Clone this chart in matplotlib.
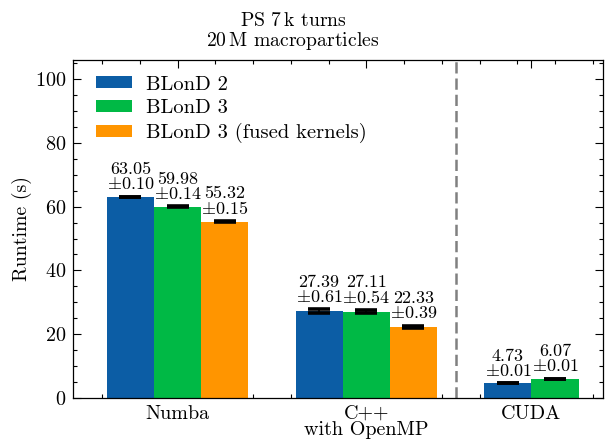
import numpy as np
import matplotlib
matplotlib.use("Agg")
import matplotlib.pyplot as plt
from matplotlib.ticker import MultipleLocator

plt.rcParams['font.family'] = ['cmr10', 'DejaVu Serif']
plt.rcParams['mathtext.fontset'] = 'cm'
plt.rcParams['axes.formatter.use_mathtext'] = True

groups = ["Numba", "C++\nwith OpenMP", "CUDA"]
series = ["BLonD 2", "BLonD 3", "BLonD 3 (fused kernels)"]
values = [
    [63.05, 27.39, 4.73],
    [59.98, 27.11, 6.07],
    [55.32, 22.33, None],
]
errors = [
    [0.10, 0.61, 0.01],
    [0.14, 0.54, 0.01],
    [0.15, 0.39, None],
]
colors = ["#0C5DA5", "#00B945", "#FF9500"]
title = "PS $7\\,$k turns\n$20\\,$M macroparticles"

fig = plt.figure(figsize=(6.10, 4.43), dpi=100)
ax = fig.add_axes([0.1197, 0.1016, 0.9885 - 0.1197, 0.8646 - 0.1016])

x = np.arange(len(groups))
w = 0.25
for i, (name, vals, errs, c) in enumerate(zip(series, values, errors, colors)):
    idx = [j for j, v in enumerate(vals) if v is not None]
    xs = x[idx] + (i - 1) * w
    vs = [vals[j] for j in idx]
    es = [errs[j] for j in idx]
    ax.bar(xs, vs, width=w, color=c, label=name, zorder=2)
    ax.errorbar(xs, vs, yerr=es, fmt='none', ecolor='black', elinewidth=1.2,
                capsize=8, capthick=2.6, zorder=3)
    for xx, v, e in zip(xs, vs, es):
        ax.annotate(f"{v:.2f}\n$\\pm${e:.2f}", (xx, v + e), xytext=(0, 3),
                    textcoords='offset points', ha='center', va='bottom',
                    fontsize=13, linespacing=0.92)

ax.axvline(1.475, color='#808080', linestyle=(0, (4.5, 2.0)), linewidth=1.8, zorder=1)

# group centres: 3-bar groups centred on x, 2-bar group centred between its bars
nbars = [sum(v[j] is not None for v in values) for j in range(len(groups))]
centres = [xx + (n - 3) * w / 2 for xx, n in zip(x, nbars)]
ax.set_xticks(centres)
ax.set_xticklabels(groups, fontsize=14.5, linespacing=0.85)
ax.xaxis.set_minor_locator(MultipleLocator(0.2))
ax.set_xlim(-0.5535, 2.2537)
ax.set_ylim(0, 106)
ax.yaxis.set_major_locator(MultipleLocator(20))
ax.yaxis.set_minor_locator(MultipleLocator(5))
ax.tick_params(axis='both', which='both', direction='in', top=True, right=True)
ax.tick_params(which='major', length=6, width=0.8, labelsize=14.5)
ax.tick_params(which='minor', length=3, width=0.8)
ax.tick_params(axis='x', which='major', pad=5)
ax.tick_params(axis='y', which='major', pad=5)
for s in ax.spines.values():
    s.set_linewidth(0.9)

ax.set_ylabel("Runtime (s)", fontsize=14.3, labelpad=2)
t = ax.set_title(title, fontsize=14.2, linespacing=1.0, pad=10)
t.set_x(0.415)

ax.legend(loc='upper left', bbox_to_anchor=(0.028, 0.978), frameon=False,
          fontsize=14.8, handlelength=1.75, handleheight=0.5,
          handletextpad=0.68, borderaxespad=0.0, borderpad=0.4,
          labelspacing=0.28)

fig.savefig("out.png", dpi=100)
